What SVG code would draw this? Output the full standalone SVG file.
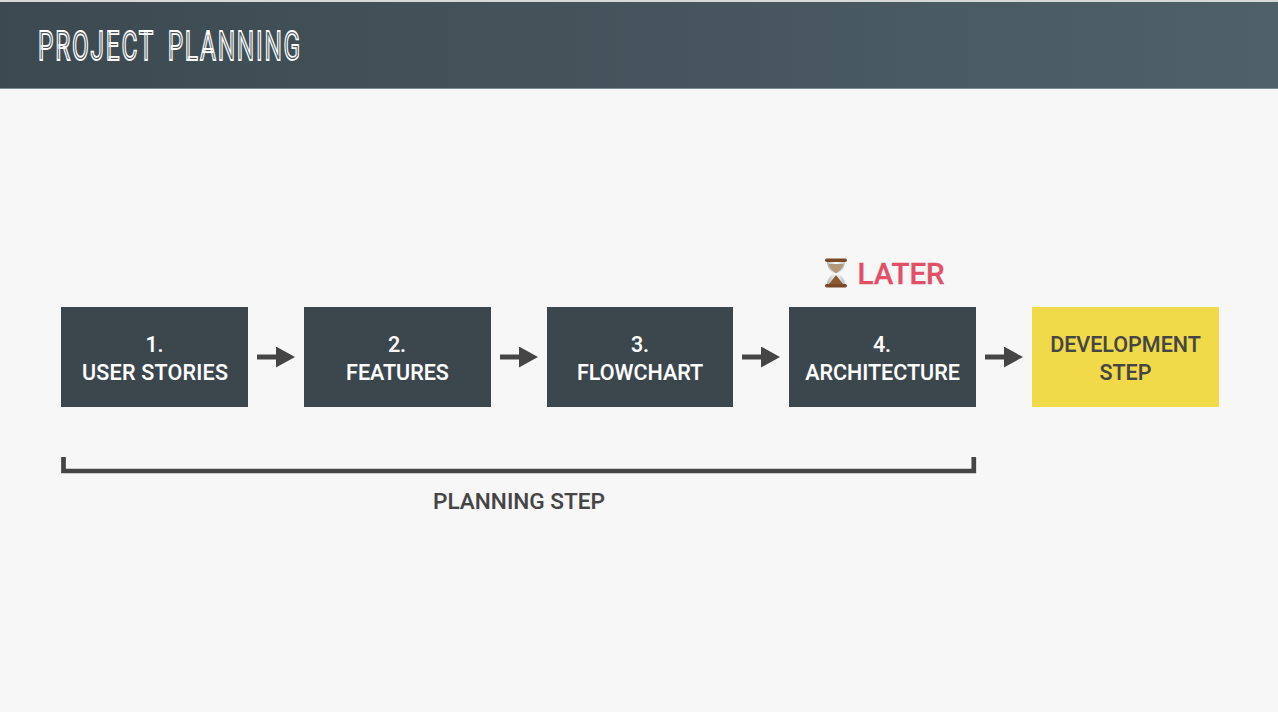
<svg xmlns="http://www.w3.org/2000/svg" width="1278" height="712" viewBox="0 0 1278 712">
<style>
.box{fill:#3b464d}
.t{font-family:Roboto,"Liberation Sans",sans-serif;font-weight:500;font-size:21.5px;text-anchor:middle}
.w{fill:#fff;stroke:#fff;stroke-width:.1px}
.d{fill:#454545;stroke:#454545;stroke-width:.1px}
.title{font-family:"Liberation Sans Narrow",Roboto,"Liberation Sans",sans-serif;font-size:41px;letter-spacing:3px;word-spacing:9px;fill:#46535a;stroke:#fff;stroke-width:1.8px}
.arrow{fill:none;stroke:#454545;stroke-width:5;marker-end:url(#head)}
</style>
<defs>
<linearGradient id="hdr" x1="0" x2="1" y1="0" y2="0"><stop offset="0" stop-color="#3c4950"/><stop offset="1" stop-color="#4f6068"/></linearGradient>
<linearGradient id="glass" x1="0" x2="1" y1="0" y2="0"><stop offset="0" stop-color="#aeb5ba"/><stop offset=".5" stop-color="#fff"/><stop offset="1" stop-color="#b8bdc2"/></linearGradient>
<marker id="head" markerUnits="userSpaceOnUse" markerWidth="20" markerHeight="22" refX="0" refY="10.5" orient="auto"><path d="M0 0L19 10.5L0 21Z" fill="#454545"/></marker>
</defs>
<rect width="1278" height="712" fill="#f7f7f7"/>
<g id="header">
<rect y="0" width="1278" height="2" fill="#d8d8d8"/>
<rect y="2" width="1278" height="86" fill="url(#hdr)"/>
<rect y="88" width="1278" height="1" fill="#7c8a91"/>
<text class="title" x="38" y="60" textLength="264" lengthAdjust="spacingAndGlyphs">PROJECT PLANNING</text>
</g>
<g id="connectors">
<path class="arrow" d="M257 357H276"/>
<path class="arrow" d="M500 357H519"/>
<path class="arrow" d="M742 357H761"/>
<path class="arrow" d="M985 357H1004"/>
</g>
<g id="node-1"><rect class="box" x="61" y="307" width="187" height="100"/><text class="t w" x="154.500" y="351.500">1.</text><text class="t w" x="155" y="379.500" textLength="146">USER STORIES</text></g>
<g id="node-2"><rect class="box" x="304" y="307" width="187" height="100"/><text class="t w" x="397" y="351.500">2.</text><text class="t w" x="397.500" y="379.500">FEATURES</text></g>
<g id="node-3"><rect class="box" x="547" y="307" width="186" height="100"/><text class="t w" x="640" y="351.500">3.</text><text class="t w" x="640" y="379.500">FLOWCHART</text></g>
<g id="node-4"><rect class="box" x="789" y="307" width="187" height="100"/><text class="t w" x="882" y="351.500">4.</text><text class="t w" x="882.500" y="379.500">ARCHITECTURE</text></g>
<g id="node-5"><rect x="1032" y="307" width="187" height="100" fill="#f1da4a"/><text class="t d" x="1125.500" y="351.500">DEVELOPMENT</text><text class="t d" x="1125.500" y="379.500">STEP</text></g>
<g id="later">
<path d="M827 261H845C845 268 842 271 838 273.500C842 276 845 279 845 285H827C827 279 830 276 834 273.500C830 271 827 268 827 261Z" fill="url(#glass)"/>
<path d="M828.500 264H843.500C843 268 840 271 836 273.500C832 271 829 268 828.500 264Z" fill="#b49a78"/>
<path d="M836 275L843 284H829Z" fill="#8a5a33"/>
<rect x="825" y="258.500" width="22" height="3.500" rx="1.700" fill="#7a4a26"/>
<rect x="825" y="284" width="22" height="3.500" rx="1.700" fill="#7a4a26"/>
<text x="857.500" y="283.500" font-family="Roboto,'Liberation Sans',sans-serif" font-weight="500" font-size="29.500" fill="#e34f66" stroke="#e34f66" stroke-width=".3">LATER</text>
</g>
<g id="bracket">
<path d="M63.500 457V471H973.800V457" fill="none" stroke="#454545" stroke-width="4.700"/>
<text class="t d" x="519" y="508.500" style="font-size:22.600px">PLANNING STEP</text>
</g>
</svg>
